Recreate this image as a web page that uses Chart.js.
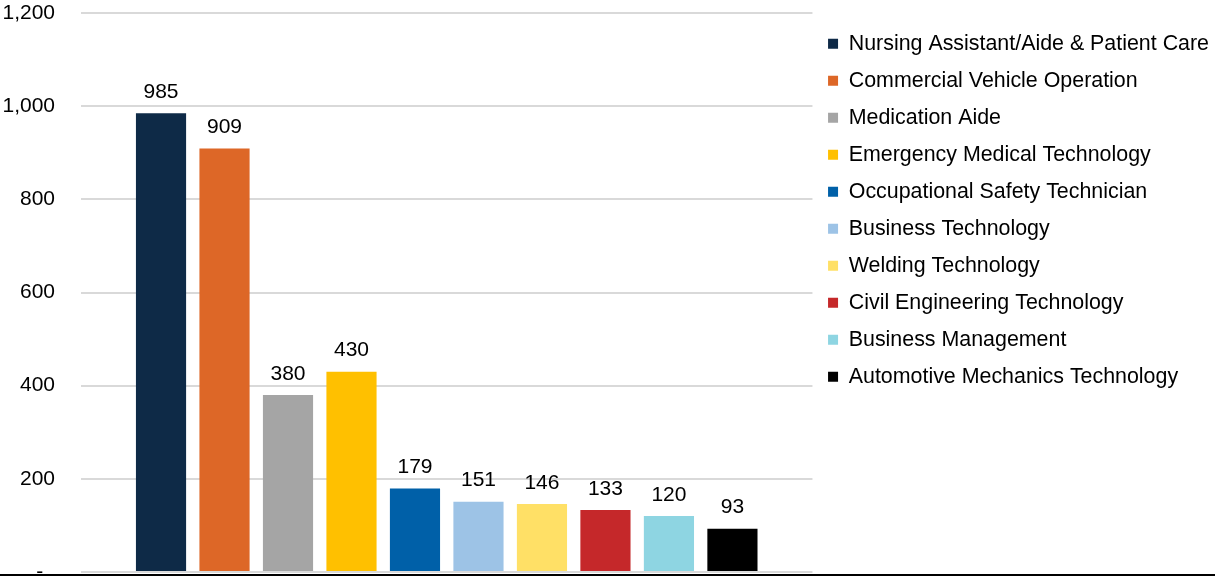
<!DOCTYPE html>
<html>
<head>
<meta charset="utf-8">
<script src="https://cdn.jsdelivr.net/npm/chart.js@4.4.1/dist/chart.umd.min.js"></script>
<style>
  html, body { margin: 0; padding: 0; background: #fff; }
  #wrap { position: relative; width: 1215px; height: 574px; border-bottom: 2px solid #000; }
</style>
</head>
<body>
<div id="wrap"><canvas id="c" width="1215" height="574"></canvas></div>
<script>
const programs = [
  "Nursing Assistant/Aide & Patient Care",
  "Commercial Vehicle Operation",
  "Medication Aide",
  "Emergency Medical Technology",
  "Occupational Safety Technician",
  "Business Technology",
  "Welding Technology",
  "Civil Engineering Technology",
  "Business Management",
  "Automotive Mechanics Technology"
];
const counts = [985, 909, 380, 430, 179, 151, 146, 133, 120, 93];
const barColors = ["#0e2a47", "#dd6727", "#a5a5a5", "#ffc000", "#0060a8", "#9dc3e6", "#ffe066", "#c5282a", "#8ed5e2", "#000000"];
const yTicks = [0, 200, 400, 600, 800, 1000, 1200];

const FONT = "'Liberation Sans', Arial, sans-serif";
const FS = 21;
const LFS = 21.4;

const valueLabels = {
  id: 'valueLabels',
  afterDatasetsDraw(chart) {
    const ctx = chart.ctx;
    ctx.save();
    ctx.font = FS + "px " + FONT;
    ctx.fillStyle = "#000";
    ctx.textAlign = "center";
    ctx.textBaseline = "middle";
    chart.data.datasets.forEach((ds, i) => {
      const meta = chart.getDatasetMeta(i);
      meta.data.forEach((bar, j) => {
        ctx.fillText(String(ds.data[j]), bar.x, bar.y - 21);
      });
    });
    ctx.restore();
  }
};

new Chart(document.getElementById('c'), {
  type: 'bar',
  data: {
    labels: [''],
    datasets: programs.map((p, i) => ({
      label: p,
      data: [counts[i]],
      backgroundColor: barColors[i],
      borderWidth: 0
    }))
  },
  options: {
    responsive: false,
    animation: false,
    devicePixelRatio: 1,
    layout: { padding: { top: 13, bottom: 2, left: 0, right: -4 } },
    datasets: { bar: { categoryPercentage: 0.868, barPercentage: 0.79 } },
    scales: {
      x: {
        display: false
      },
      y: {
        min: 0, max: 1200,
        afterFit: s => { s.width = 81; s.paddingTop = 0; s.paddingBottom = 0; },
        afterBuildTicks: s => { s.ticks = yTicks.map(v => ({ value: v })); },
        grid: { color: '#d9d9d9', lineWidth: 2, drawTicks: false },
        border: { display: false },
        ticks: {
          padding: 26,
          color: '#000',
          font: { family: FONT, size: FS },
          callback: v => v === 0 ? '-  ' : v.toLocaleString('en-US')
        }
      }
    },
    plugins: {
      legend: {
        position: 'right',
        align: 'start',
        maxWidth: 500,
        title: { display: true, text: ' ', padding: 0, font: { size: 3.75, lineHeight: 1.2 } },
        labels: {
          boxWidth: 10,
          boxHeight: 10,
          padding: 15.6,
          color: '#000',
          font: { family: FONT, size: LFS }
        }
      },
      tooltip: { enabled: false }
    }
  },
  plugins: [valueLabels]
});
</script>
</body>
</html>
